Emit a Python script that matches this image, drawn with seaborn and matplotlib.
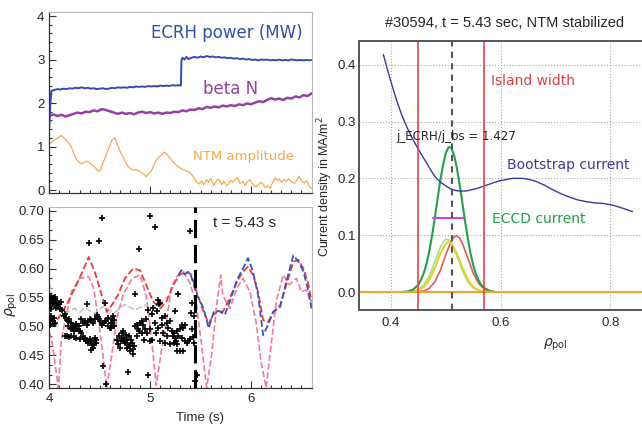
import numpy as np
import pandas as pd
import matplotlib
matplotlib.use("Agg")
import matplotlib.pyplot as plt
from matplotlib.ticker import AutoMinorLocator, FixedLocator, FormatStrFormatter
import seaborn as sns

sns.set_style("white")
plt.rcParams['font.family'] = ['DejaVu Sans']
ARIAL = ['Liberation Sans', 'DejaVu Sans']

# ---------------- top-left panel data ----------------
ecrh_time = [4.00,4.01,4.02,4.05,4.08,4.11,4.14,4.17,4.20,4.23,
             4.26,4.29,4.32,4.35,4.38,4.41,4.44,4.47,4.50,4.53,
             4.56,4.59,4.62,4.65,4.68,4.71,4.74,4.77,4.80,4.83,
             4.86,4.89,4.92,4.95,4.98,5.01,5.04,5.07,5.10,5.13,
             5.16,5.19,5.22,5.25,5.28,5.305,5.31,5.32,5.34,5.36,
             5.38,5.41,5.44,5.47,5.50,5.53,5.56,5.59,5.62,5.65,
             5.68,5.71,5.74,5.77,5.80,5.83,5.86,5.89,5.92,5.95,
             5.98,6.01,6.04,6.07,6.10,6.13,6.16,6.19,6.22,6.25,
             6.28,6.31,6.34,6.37,6.40,6.43,6.46,6.49,6.52,6.55,
             6.58,6.60]
ecrh_power = [1.45,1.95,2.28,2.30,2.32,2.31,2.33,2.32,2.34,2.33,
              2.35,2.34,2.36,2.34,2.35,2.33,2.34,2.32,2.33,2.34,
              2.32,2.33,2.35,2.34,2.36,2.35,2.36,2.35,2.37,2.36,
              2.38,2.37,2.38,2.37,2.39,2.38,2.39,2.38,2.40,2.39,
              2.40,2.39,2.41,2.40,2.41,2.40,2.97,3.04,3.00,3.06,
              3.01,3.04,3.06,3.04,3.07,3.05,3.08,3.06,3.07,3.05,
              3.06,3.04,3.05,3.03,3.04,3.02,3.03,3.01,3.02,3.00,
              3.01,2.99,3.00,2.98,3.00,2.99,3.00,2.98,2.99,2.98,
              3.00,2.98,2.99,2.98,3.00,2.99,2.98,2.99,2.98,2.99,
              2.98,2.99]

beta_n = [1.70,1.74,1.70,1.73,1.69,1.72,1.75,1.78,1.76,1.80,
          1.79,1.83,1.81,1.86,1.84,1.81,1.78,1.75,1.78,1.75,
          1.77,1.74,1.78,1.80,1.77,1.79,1.76,1.78,1.75,1.78,
          1.77,1.80,1.79,1.83,1.81,1.85,1.84,1.88,1.86,1.91,
          1.89,1.92,1.90,1.94,1.92,1.95,1.93,1.97,1.95,1.99,
          1.97,2.01,2.04,2.02,2.07,2.11,2.08,2.10,2.07,2.12,
          2.10,2.15,2.13,2.18,2.16,2.22]
beta_time = np.linspace(4.0, 6.6, len(beta_n))  # sample grid

ntm_time = [4.00,4.01,4.04,4.07,4.10,4.12,4.15,4.17,4.20,4.22,
            4.25,4.27,4.30,4.32,4.35,4.37,4.40,4.42,4.44,4.46,
            4.49,4.51,4.52,4.55,4.57,4.60,4.62,4.65,4.68,4.70,
            4.73,4.75,4.78,4.80,4.83,4.86,4.90,4.93,4.96,4.98,
            5.01,5.04,5.06,5.09,5.11,5.14,5.16,5.19,5.21,5.24,
            5.26,5.29,5.33,5.36,5.39,5.42,5.44,5.46,5.49,5.51,
            5.53,5.56,5.58,5.60,5.63,5.65,5.67,5.69,5.71,5.73,
            5.76,5.78,5.80,5.82,5.85,5.87,5.89,5.92,5.94,5.96,
            5.99,6.01,6.03,6.05,6.08,6.10,6.12,6.14,6.17,6.19,
            6.21,6.24,6.26,6.28,6.30,6.33,6.35,6.37,6.40,6.43,
            6.45,6.48,6.50,6.53,6.55,6.58,6.60]
ntm_amp = [1.05,1.07,1.13,1.18,1.22,1.25,1.19,1.14,1.06,0.98,
           0.80,0.70,0.63,0.60,0.64,0.66,0.62,0.58,0.56,0.50,
           0.42,0.47,0.55,0.72,0.85,1.02,1.15,1.20,1.02,0.90,
           0.77,0.66,0.54,0.50,0.46,0.47,0.42,0.38,0.31,0.36,
           0.43,0.58,0.68,0.76,0.80,0.87,0.84,0.75,0.69,0.62,
           0.57,0.52,0.46,0.44,0.41,0.33,0.26,0.19,0.14,0.21,
           0.12,0.24,0.17,0.27,0.10,0.18,0.25,0.22,0.12,0.20,
           0.10,0.16,0.22,0.18,0.26,0.28,0.15,0.20,0.10,0.18,
           0.24,0.16,0.10,0.07,0.14,0.18,0.13,0.06,0.09,0.04,
           0.15,0.28,0.22,0.25,0.18,0.24,0.20,0.26,0.19,0.15,
           0.22,0.31,0.20,0.16,0.22,0.08,0.04]

# ---------------- bottom-left panel data ----------------
red_time = [4.00,4.09,4.17,4.27,4.35,4.39,4.45,4.52,4.57,4.62,
            4.68,4.75,4.83,4.90,4.96,5.03,5.10,5.16,5.23,5.29,
            5.36,5.41,5.46,5.53,5.58,5.63,5.68,5.72,5.79,5.86,
            5.92,5.97,6.02,6.07,6.12,6.17,6.22,6.29,6.35,6.42,
            6.47,6.52,6.57,6.60]
red_rho = [0.502,0.514,0.537,0.572,0.603,0.620,0.595,0.554,0.525,0.537,
           0.554,0.583,0.600,0.597,0.572,0.543,0.531,0.543,0.572,0.589,
           0.595,0.589,0.560,0.525,0.505,0.520,0.528,0.525,0.549,0.577,
           0.595,0.603,0.589,0.560,0.511,0.508,0.525,0.537,0.572,0.612,
           0.615,0.600,0.572,0.543]

blue_time = [5.28,5.31,5.34,5.38,5.41,5.46,5.53,5.58,5.63,5.68,
             5.74,5.79,5.86,5.92,5.97,6.02,6.07,6.12,6.17,6.22,
             6.29,6.35,6.42,6.47,6.52,6.57,6.60]
blue_rho = [0.589,0.597,0.590,0.594,0.585,0.556,0.531,0.497,0.525,0.527,
            0.520,0.543,0.580,0.600,0.618,0.595,0.554,0.485,0.503,0.525,
            0.534,0.577,0.623,0.612,0.595,0.560,0.531]

pink_time = [4.00,4.03,4.09,4.12,4.17,4.22,4.30,4.39,4.44,4.49,
             4.54,4.57,4.62,4.67,4.73,4.82,4.90,4.96,5.01,5.06,
             5.11,5.16,5.21,5.26,5.33,5.39,5.46,5.51,5.56,5.61,
             5.66,5.70,5.72,5.79,5.86,5.92,5.99,6.05,6.10,6.15,
             6.20,6.25,6.32,6.38,6.45,6.50,6.55,6.60]
pink_rho = [0.490,0.470,0.394,0.478,0.520,0.560,0.583,0.586,0.566,0.508,
            0.439,0.394,0.451,0.514,0.554,0.583,0.589,0.554,0.485,0.398,
            0.456,0.508,0.566,0.586,0.595,0.577,0.537,0.468,0.394,0.451,
            0.537,0.589,0.554,0.531,0.566,0.583,0.560,0.508,0.439,0.394,
            0.468,0.543,0.589,0.572,0.583,0.560,0.563,0.537]

gray_time = [4.00,4.03,4.06,4.10,4.15,4.20,4.25,4.30,4.35,4.40,
             4.45,4.50,4.55,4.60,4.65,4.70,4.75,4.80,4.85,4.90,
             4.95,5.00,5.05,5.10,5.15,5.20]
gray_rho = [0.575,0.555,0.538,0.528,0.522,0.526,0.531,0.524,0.533,0.527,
            0.522,0.530,0.536,0.528,0.524,0.532,0.538,0.533,0.528,0.533,
            0.537,0.530,0.536,0.542,0.548,0.555]

scatter_time = [4.000,4.010,4.020,4.027,4.035,4.040,4.047,4.053,4.060,4.070,
                4.075,4.080,4.090,4.100,4.110,4.120,4.126,4.010,4.020,4.005,
                4.000,4.010,4.020,4.030,4.037,4.045,4.060,4.010,4.050,4.146,
                4.155,4.169,4.180,4.190,4.200,4.218,4.225,4.235,4.250,4.260,
                4.268,4.284,4.290,4.300,4.317,4.185,4.212,4.240,4.160,4.180,
                4.200,4.218,4.245,4.260,4.300,4.330,4.350,4.360,4.367,4.380,
                4.400,4.416,4.425,4.433,4.440,4.450,4.466,4.416,4.460,4.317,
                4.330,4.350,4.370,4.383,4.400,4.416,4.430,4.450,4.470,4.483,
                4.490,4.500,4.520,4.532,4.550,4.565,4.582,4.600,4.614,4.620,
                4.377,4.552,4.580,4.530,4.560,4.397,4.496,4.519,4.998,5.048,
                4.892,4.850,5.080,5.090,4.783,4.975,4.618,4.630,4.640,4.610,
                4.645,4.674,4.684,4.694,4.707,4.717,4.725,4.734,4.740,4.745,
                4.750,4.760,4.767,4.773,4.780,4.793,4.798,4.800,4.810,4.816,
                4.826,4.840,4.830,4.700,4.850,4.866,4.872,4.880,4.892,4.899,
                4.915,4.920,4.932,4.939,4.948,4.965,4.955,4.982,4.998,5.015,
                5.020,5.031,5.048,5.064,5.081,5.097,5.100,5.114,5.130,5.147,
                5.150,5.163,5.168,5.180,5.196,5.200,5.213,5.229,5.235,5.000,
                5.060,5.120,5.249,5.278,5.240,5.265,5.300,5.315,5.330,5.348,
                5.250,5.280,5.315,5.255,5.270,5.348,5.365,5.380,5.265,5.300,
                5.330,5.414,5.430,5.430,5.410,5.414,5.394,5.464,5.447,5.400,
                5.420]
scatter_rho = [0.552,0.547,0.553,0.548,0.541,0.550,0.538,0.551,0.545,0.532,
               0.540,0.544,0.535,0.538,0.530,0.542,0.529,0.535,0.530,0.543,
               0.515,0.510,0.518,0.512,0.509,0.504,0.506,0.503,0.514,0.518,
               0.522,0.515,0.511,0.509,0.513,0.506,0.498,0.503,0.501,0.505,
               0.495,0.496,0.501,0.492,0.489,0.500,0.495,0.492,0.483,0.483,
               0.481,0.483,0.482,0.480,0.478,0.481,0.480,0.474,0.477,0.471,
               0.478,0.474,0.468,0.463,0.470,0.480,0.471,0.460,0.476,0.512,
               0.506,0.509,0.503,0.507,0.512,0.511,0.506,0.513,0.519,0.517,
               0.512,0.509,0.503,0.506,0.510,0.509,0.500,0.497,0.506,0.512,
               0.538,0.540,0.515,0.432,0.401,0.645,0.648,0.687,0.691,0.671,
               0.634,0.556,0.546,0.538,0.422,0.416,0.506,0.518,0.500,0.497,
               0.511,0.477,0.469,0.483,0.474,0.489,0.480,0.492,0.478,0.474,
               0.471,0.486,0.463,0.477,0.468,0.483,0.466,0.457,0.476,0.471,
               0.461,0.466,0.452,0.462,0.500,0.483,0.503,0.495,0.492,0.506,
               0.509,0.489,0.503,0.477,0.495,0.489,0.512,0.529,0.474,0.521,
               0.477,0.532,0.506,0.526,0.497,0.541,0.474,0.515,0.489,0.518,
               0.471,0.506,0.483,0.497,0.509,0.469,0.492,0.483,0.471,0.495,
               0.488,0.502,0.526,0.556,0.489,0.492,0.495,0.503,0.497,0.503,
               0.480,0.483,0.480,0.474,0.469,0.474,0.471,0.474,0.457,0.457,
               0.457,0.495,0.471,0.518,0.524,0.541,0.665,0.416,0.405,0.478,
               0.482]
t_marker = 5.44

# ---------------- right panel data ----------------
bs_rho = [0.386,0.398,0.410,0.419,0.4285,0.438,0.447,0.456,0.465,0.474,
          0.483,0.492,0.501,0.510,0.519,0.528,0.5376,0.547,0.556,0.565,
          0.574,0.586,0.598,0.610,0.622,0.6405,0.652,0.665,0.680,0.695,
          0.710,0.7255,0.741,0.756,0.771,0.786,0.804,0.8225,0.8405]
bs_j = [0.418,0.376,0.338,0.313,0.291,0.272,0.256,0.241,0.227,0.212,
        0.200,0.192,0.186,0.181,0.1785,0.1775,0.178,0.180,0.182,0.185,
        0.188,0.192,0.1956,0.198,0.200,0.200,0.198,0.1944,0.188,0.180,
        0.173,0.167,0.162,0.159,0.157,0.156,0.153,0.1475,0.1415]

eccd_rho = [0.42,0.43,0.44,0.45,0.455,0.46,0.465,0.47,0.475,
            0.48,0.485,0.49,0.495,0.50,0.505,0.51,0.515,0.52,0.525,
            0.53,0.535,0.54,0.545,0.55,0.555,0.56,0.565,0.57,0.58,
            0.59,0.60]
eccd_j = [0,0.001,0.004,0.013,0.022,0.034,0.051,0.073,0.100,
          0.131,0.165,0.197,0.224,0.245,0.255,0.254,0.241,0.219,0.190,
          0.158,0.125,0.095,0.068,0.047,0.031,0.020,0.012,0.007,0.002,
          0.0,0]

lg_rho = [0.43,0.44,0.45,0.46,0.47,0.48,0.49,0.495,0.50,
          0.505,0.51,0.52,0.53,0.54,0.55,0.56,0.57,0.58]
lg_j = [0,0.001,0.004,0.013,0.029,0.054,0.079,0.088,0.093,
        0.092,0.087,0.064,0.038,0.018,0.007,0.002,0.0005,0]

yel_rho = [0.43,0.44,0.45,0.46,0.47,0.48,0.49,0.50,0.505,
           0.51,0.52,0.53,0.54,0.55,0.56,0.57,0.58]
yel_j = [0,0.001,0.003,0.009,0.022,0.043,0.068,0.0855,0.088,
         0.0855,0.068,0.043,0.022,0.009,0.003,0.001,0]

rd_rho = [0.44,0.45,0.46,0.47,0.48,0.49,0.50,0.51,0.515,
          0.52,0.525,0.53,0.54,0.55,0.56,0.57,0.58,0.59,0.60]
rd_j = [0,0.0004,0.002,0.0065,0.018,0.038,0.066,0.090,0.097,
        0.099,0.095,0.086,0.060,0.033,0.015,0.005,0.0015,0.0003,0]

zero_rho = [0.342, 0.86]
zero_j = [0.0, 0.0]
fwhm_rho = [0.4765, 0.534]
fwhm_j = [0.13, 0.13]
island_edges = [0.4485, 0.5705]
rho_res = 0.511

# ---------------- figure ----------------
W, H = 642, 424
fig = plt.figure(figsize=(W / 100, H / 100), dpi=100)

def box(l, t, r, b):
    return [l / W, 1 - b / H, (r - l) / W, (b - t) / H]

ax1 = fig.add_axes(box(49.3, 11.7, 311.5, 192.7))
ax2 = fig.add_axes(box(49.3, 206.7, 311.5, 388.3))
ax3 = fig.add_axes(box(359, 41, 650, 310.3))

common = dict(estimator=None, sort=False, legend=False)

# top-left
sns.lineplot(x=ecrh_time, y=ecrh_power, ax=ax1, color='#2f4fb0', lw=1.4, **common)
sns.lineplot(x=beta_time, y=beta_n, ax=ax1, color='#9441a4', lw=1.8, **common)
sns.lineplot(x=ntm_time, y=ntm_amp, ax=ax1, color='#f9a94b', lw=0.9, **common)
ax1.set_xlim(4.0, 6.6)
ax1.set_ylim(-0.062, 4.099)
ax1.text(6.514, 3.61, 'ECRH power (MW)', color='#2f4fb0', fontsize=12,
         ha='right', va='center')
ax1.text(5.523, 2.32, 'beta N', color='#9441a4', fontsize=12, ha='left', va='center')
ax1.text(5.424, 0.78, 'NTM amplitude', color='#f9a94b', fontsize=9.5,
         ha='left', va='center')

# bottom-left
sns.lineplot(x=pink_time, y=pink_rho, ax=ax2, color='#f27b98', lw=1.2,
             linestyle='--', **common)
sns.lineplot(x=gray_time, y=gray_rho, ax=ax2, color='#c4c4c4', lw=1.2,
             linestyle='--', **common)
sns.lineplot(x=red_time, y=red_rho, ax=ax2, color='#ee3a3a', lw=1.3,
             linestyle='--', **common)
sns.lineplot(x=blue_time, y=blue_rho, ax=ax2, color='#3556c4', lw=1.3,
             linestyle='--', **common)
sns.scatterplot(x=scatter_time, y=scatter_rho, ax=ax2, marker='+', s=20,
                color='black', linewidth=1.2, legend=False, zorder=5)
ax2.axvline(t_marker, color='black', lw=2.2, dashes=(6, 2.2), zorder=6)
ax2.set_xlim(4.0, 6.6)
ax2.set_ylim(0.3931, 0.7069)
ax2.text(5.62, 0.679, 't = 5.43 s', fontsize=11, family=ARIAL, ha='left', va='center')

for ax in (ax1, ax2):
    ax.xaxis.set_major_locator(FixedLocator([4, 5, 6]))
    ax.xaxis.set_minor_locator(AutoMinorLocator(10))
    ax.tick_params(which='both', direction='in', top=False, right=False,
                   left=True, bottom=True, color='#333333', width=0.8)
    ax.tick_params(which='major', length=5, labelsize=9)
    ax.tick_params(which='minor', length=2.5)
    for s in ('left', 'bottom'):
        ax.spines[s].set_color('#333333')
        ax.spines[s].set_linewidth(0.9)
    for s in ('top', 'right'):
        ax.spines[s].set_color('#b8b8b8')
        ax.spines[s].set_linewidth(0.8)
    ax.set_xlabel('')
    ax.set_ylabel('')

ax1.yaxis.set_major_locator(FixedLocator([0, 1, 2, 3, 4]))
ax1.yaxis.set_minor_locator(AutoMinorLocator(5))
ax1.set_xticklabels([])
ax2.yaxis.set_major_locator(FixedLocator([0.40, 0.45, 0.50, 0.55, 0.60, 0.65, 0.70]))
ax2.yaxis.set_major_formatter(FormatStrFormatter('%.2f'))
ax2.yaxis.set_minor_locator(AutoMinorLocator(3))
for lab in ax1.get_yticklabels() + ax2.get_xticklabels() + ax2.get_yticklabels():
    lab.set_family(ARIAL)
    lab.set_fontsize(9.5)

fig.text(12 / W, 1 - 305 / H, r'$\rho_{\mathrm{pol}}$', rotation=90, fontsize=10,
         ha='center', va='center')
fig.text(200 / W, 1 - 418 / H, 'Time (s)', fontsize=9.5, family=ARIAL,
         ha='center', va='center')

# right panel
sns.lineplot(x=lg_rho, y=lg_j, ax=ax3, color='#a9dba4', lw=1.2, **common)
sns.lineplot(x=rd_rho, y=rd_j, ax=ax3, color='#e85a5a', lw=1.2, **common)
sns.lineplot(x=yel_rho, y=yel_j, ax=ax3, color='#e2d21c', lw=1.5, **common)
sns.lineplot(x=eccd_rho, y=eccd_j, ax=ax3, color='#24a046', lw=1.5, **common)
sns.lineplot(x=zero_rho, y=zero_j, ax=ax3, color='#f0a438', lw=1.5, **common)
sns.lineplot(x=bs_rho, y=bs_j, ax=ax3, color='#3a3c9e', lw=1.0, **common)
sns.lineplot(x=fwhm_rho, y=fwhm_j, ax=ax3, color='#d83fbe', lw=1.4, **common)
for e in island_edges:
    ax3.axvline(e, color='#e04848', lw=1.2)
ax3.axvline(rho_res, color='#555555', lw=1.5, dashes=(3, 2.5))

ax3.set_xlim(0.3416, 0.8724)
ax3.set_ylim(-0.0322, 0.4418)
ax3.xaxis.set_major_locator(FixedLocator([0.4, 0.6, 0.8]))
ax3.yaxis.set_major_locator(FixedLocator([0.0, 0.1, 0.2, 0.3, 0.4]))
ax3.xaxis.set_major_formatter(FormatStrFormatter('%.1f'))
ax3.yaxis.set_major_formatter(FormatStrFormatter('%.1f'))
ax3.grid(True, linestyle=':', color='#a8a8a8', lw=0.8)
ax3.tick_params(length=0, labelsize=9.5, pad=2.5)
for lab in ax3.get_xticklabels() + ax3.get_yticklabels():
    lab.set_family(ARIAL)
ax3.tick_params(axis='x', pad=5)
for s in ax3.spines.values():
    s.set_color('#555555')
    s.set_linewidth(1.4)
ax3.set_xlabel('')
ax3.set_ylabel('')
ax3.set_title('#30594, t = 5.43 sec, NTM stabilized', fontsize=10.5,
              family=ARIAL, pad=10)

ax3.text(0.5824, 0.371, 'Island width', color='#d94040', fontsize=10,
         ha='left', va='center')
ax3.text(0.409, 0.274, 'j_ECRH/j_bs = 1.427', color='#222222', fontsize=8.5,
         ha='left', va='center')
ax3.text(0.611, 0.223, 'Bootstrap current', color='#3a3c9e', fontsize=10,
         ha='left', va='center')
ax3.text(0.584, 0.128, 'ECCD current', color='#24a046', fontsize=10,
         ha='left', va='center')

fig.text(325 / W, 1 - 187 / H, 'Current density in MA/m$^2$', rotation=90,
         fontsize=9, family=ARIAL, ha='center', va='center')
fig.text(555 / W, 1 - 345 / H, r'$\rho_{\mathrm{pol}}$', fontsize=10,
         ha='center', va='center')

fig.savefig('out.png', dpi=100)
